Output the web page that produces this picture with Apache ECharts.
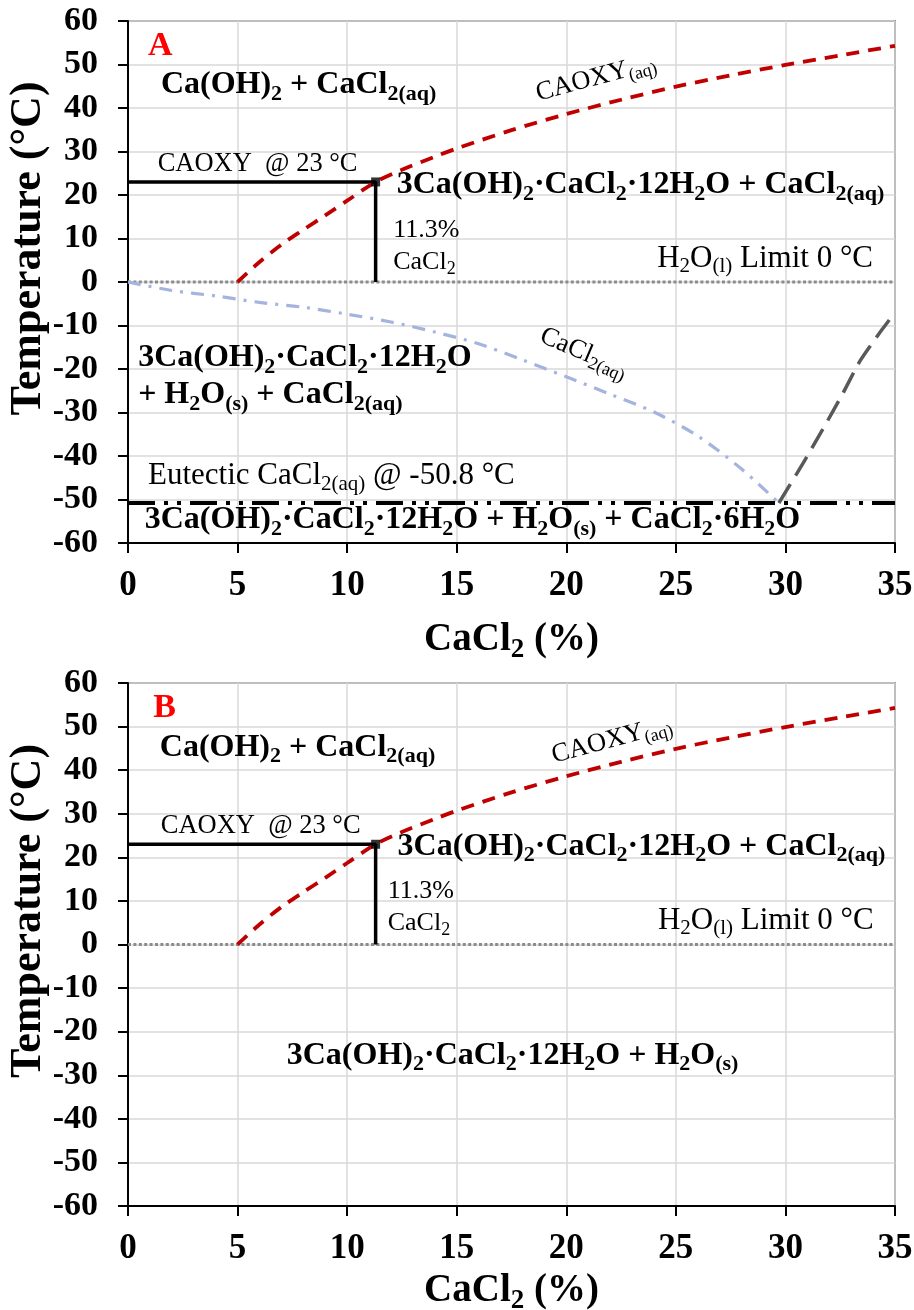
<!DOCTYPE html>
<html>
<head>
<meta charset="utf-8">
<script src="https://cdn.jsdelivr.net/npm/echarts@6/dist/echarts.min.js"></script>
<style>
  html, body { margin: 0; padding: 0; background: #ffffff; }
  #chart { width: 914px; height: 1310px; }
</style>
</head>
<body>
<div id="chart"></div>
<script>
// ---- Data: CaCl2 concentration (%) vs temperature (°C) ----
// CAOXY(aq) solubility boundary (3Ca(OH)2·CaCl2·12H2O formation)
const caoxyX = [5, 6, 7, 8, 9, 10, 11.3, 12.5, 14, 15, 17.5, 20, 22.5, 25, 27.5, 30, 32.5, 35];
const caoxyT = [0, 4.6, 8.6, 12.0, 15.3, 18.7, 23.0, 25.8, 28.8, 30.7, 34.9, 38.6, 41.9, 44.9, 47.5, 49.9, 52.1, 54.3];
// Ice liquidus of CaCl2(aq)
const iceX = [0, 2, 4, 6, 8, 10, 12, 14, 16, 18, 20, 22, 24, 26, 28, 29.7];
const iceT = [0, -1.95, -3.2, -4.7, -5.8, -7.4, -9.2, -11.5, -14.2, -17.9, -21.8, -25.8, -29.9, -35.4, -43.0, -50.8];
// CaCl2·6H2O liquidus
const hexX = [29.7, 30.8, 31.7, 32.6, 33.4, 34.4, 35];
const hexT = [-50.8, -41.7, -33.9, -25.8, -18.2, -11.0, -7.0];
// Reference levels
const eutecticT = -50.8;      // °C
const waterLimitT = 0;        // °C
const caoxyPoint = [11.3, 23]; // % CaCl2, °C
// Axis ranges / tick steps
const xRange = [0, 35], xStep = 5;
const yRange = [-60, 60], yStep = 10;

const FONT = '"Liberation Serif", "Times New Roman", serif';

// Annotation text with simple subscript markup: _X or _{...}
const textA = [
  { at: [1.47, 54.2], kind: 'tag', pos: 'inside', text: 'A' },
  { at: [1.5, 45.3], kind: 'B', pos: 'right', text: 'Ca(OH)_2 + CaCl_{2(aq)}' },
  { at: [1.35, 27.1], kind: 'R', pos: 'right', text: 'CAOXY  @ 23 °C' },
  { at: [12.26, 22.3], kind: 'B', pos: 'right', text: '3Ca(OH)_2·CaCl_2·12H_2O + CaCl_{2(aq)}' },
  { at: [12.1, 8.3], kind: 'N', pos: 'right', text: '11.3%\nCaCl_2' },
  { at: [34.0, 5.3], kind: 'L', pos: 'left', text: 'H_2O_{(l)} Limit 0 °C' },
  { at: [21.35, 46.9], kind: 'R', pos: 'inside', rotate: 15, text: 'CAOXY_{(aq)}' },
  { at: [20.8, -16.3], kind: 'R', pos: 'inside', rotate: -23, text: 'CaCl_{2(aq)}' },
  { at: [0.46, -21.7], kind: 'B2', pos: 'right', text: '3Ca(OH)_2·CaCl_2·12H_2O\n+ H_2O_{(s)} + CaCl_{2(aq)}' },
  { at: [0.91, -44.6], kind: 'L', pos: 'right', text: 'Eutectic CaCl_{2(aq)} @ -50.8 °C' },
  { at: [0.76, -54.7], kind: 'B', pos: 'right', text: '3Ca(OH)_2·CaCl_2·12H_2O + H_2O_{(s)} + CaCl_2·6H_2O' }
];
const textB = [
  { at: [1.67, 54.2], kind: 'tag', pos: 'inside', text: 'B' },
  { at: [1.45, 45.2], kind: 'B', pos: 'right', text: 'Ca(OH)_2 + CaCl_{2(aq)}' },
  { at: [1.49, 27.1], kind: 'R', pos: 'right', text: 'CAOXY  @ 23 °C' },
  { at: [12.3, 22.5], kind: 'B', pos: 'right', text: '3Ca(OH)_2·CaCl_2·12H_2O + CaCl_{2(aq)}' },
  { at: [11.85, 8.55], kind: 'N', pos: 'right', text: '11.3%\nCaCl_2' },
  { at: [34.03, 5.4], kind: 'L', pos: 'left', text: 'H_2O_{(l)} Limit 0 °C' },
  { at: [22.07, 46.9], kind: 'R', pos: 'inside', rotate: 15, text: 'CAOXY_{(aq)}' },
  { at: [17.55, -25.5], kind: 'B', pos: 'inside', text: '3Ca(OH)_2·CaCl_2·12H_2O + H_2O_{(s)}' }
];

// Convert the subscript markup into ECharts rich text for a style prefix
function toRich(str, kind) {
  const main = kind, sub = kind + 's';
  return str.split('\n').map(function (line) {
    let out = '', buf = '', i = 0;
    const flush = function () { if (buf) { out += '{' + main + '|' + buf + '}'; buf = ''; } };
    while (i < line.length) {
      if (line[i] === '_') {
        flush();
        let s;
        if (line[i + 1] === '{') {
          const j = line.indexOf('}', i + 2);
          s = line.slice(i + 2, j); i = j + 1;
        } else { s = line[i + 1]; i += 2; }
        out += '{' + sub + '|' + s + '}';
      } else { buf += line[i]; i++; }
    }
    flush();
    return out;
  }).join('\n');
}

function styleSet(name, size, subSize, pad, lh, weight, color) {
  const o = {};
  o[name] = { fontFamily: FONT, fontWeight: weight, fontSize: size, lineHeight: lh, color: color };
  o[name + 's'] = { fontFamily: FONT, fontWeight: weight, fontSize: subSize, lineHeight: lh, color: color, padding: [pad, 0, 0, 0] };
  return o;
}
const rich = Object.assign({},
  styleSet('B', 32, 22, 18, 40, 'bold', '#000'),
  styleSet('B2', 32, 22, 18, 37, 'bold', '#000'),
  styleSet('R', 26.5, 18, 14, 34, 'normal', '#000'),
  styleSet('L', 31, 21, 16, 38, 'normal', '#000'),
  styleSet('N', 26, 18, 14, 32, 'normal', '#000'),
  styleSet('tag', 34, 22, 14, 40, 'bold', '#FF0000'),
  styleSet('T', 39, 27, 20, 44, 'bold', '#000')
);

function textSeries(list, idx) {
  return {
    type: 'scatter', xAxisIndex: idx, yAxisIndex: idx, silent: true, z: 10,
    symbol: 'circle', symbolSize: 0.1, itemStyle: { color: 'transparent' },
    label: { show: true, rich: rich, distance: 0 },
    data: list.map(function (a) {
      return {
        value: a.at,
        label: {
          show: true, position: a.pos, rotate: a.rotate || 0, distance: 0,
          textBorderWidth: 0, opacity: 1,
          formatter: toRich(a.text, a.kind), rich: rich
        }
      };
    })
  };
}

function pairs(xs, ys) { return xs.map(function (x, i) { return [x, ys[i]]; }); }

function lineSeries(idx, data, color, width, dash, extra) {
  return Object.assign({
    type: 'line', xAxisIndex: idx, yAxisIndex: idx, data: data, showSymbol: false, symbol: 'none',
    silent: true, animation: false,
    lineStyle: { color: color, width: width, type: dash, cap: 'butt' }
  }, extra || {});
}

function panelSeries(idx, full) {
  const s = [];
  s.push(lineSeries(idx, [[xRange[0], waterLimitT], [xRange[1], waterLimitT]], '#8C8C8C', 3, [3, 2.4], { z: 2 }));
  if (full) {
    s.push(lineSeries(idx, pairs(iceX, iceT), '#A4B4DE', 3.2, [13, 8, 3, 8], { smooth: 0.3, z: 3 }));
    s.push(lineSeries(idx, pairs(hexX, hexT), '#595959', 3.5, [22, 10], { smooth: 0.2, z: 3 }));
    s.push(lineSeries(idx, [[xRange[0], eutecticT], [xRange[1], eutecticT]], '#000000', 4, [27, 9, 4, 9, 4, 9], { z: 3 }));
  }
  s.push(lineSeries(idx, [[xRange[0], caoxyPoint[1]], caoxyPoint, [caoxyPoint[0], waterLimitT]], '#000000', 3.5, 'solid', { z: 4 }));
  s.push(lineSeries(idx, pairs(caoxyX, caoxyT), '#C00000', 3.8, [13, 9], { smooth: 0.3, z: 5 }));
  s.push({
    type: 'scatter', xAxisIndex: idx, yAxisIndex: idx, silent: true, z: 6,
    symbol: 'rect', symbolSize: 9, itemStyle: { color: '#000' }, data: [caoxyPoint]
  });
  s.push(textSeries(idx === 0 ? textA : textB, idx));
  return s;
}

const tickFont = { fontFamily: FONT, fontWeight: 'bold', color: '#000' };

function xAxisOpt(idx, gap) {
  return {
    type: 'value', gridIndex: idx, min: xRange[0], max: xRange[1], interval: xStep,
    name: '{T|CaCl}{Ts|2}{T| (%)}', nameLocation: 'middle', nameGap: gap, nameMoveOverlap: false,
    nameTextStyle: { rich: rich, fontFamily: FONT, fontWeight: 'bold', fontSize: 39, color: '#000' },
    axisLine: { show: true, onZero: false, lineStyle: { color: '#000', width: 2 } },
    axisTick: { show: true, inside: false, length: 10, lineStyle: { color: '#000', width: 2 } },
    axisLabel: Object.assign({ fontSize: 35, margin: 25 }, tickFont),
    splitLine: { show: true, lineStyle: { color: '#D9D9D9', width: 1.5 } }
  };
}
function yAxisOpt(idx) {
  return {
    type: 'value', gridIndex: idx, min: yRange[0], max: yRange[1], interval: yStep,
    name: 'Temperature (°C)', nameLocation: 'middle', nameRotate: 90, nameGap: 77, nameMoveOverlap: false,
    nameTextStyle: { fontFamily: FONT, fontWeight: 'bold', fontSize: 44, color: '#000', padding: [0, 0, 0, 67] },
    axisLine: { show: true, onZero: false, lineStyle: { color: '#000', width: 2 } },
    axisTick: { show: true, inside: false, length: 10, lineStyle: { color: '#000', width: 2 } },
    axisLabel: Object.assign({ fontSize: 34, margin: 30 }, tickFont),
    splitLine: { show: true, lineStyle: { color: '#D9D9D9', width: 1.5 } }
  };
}

const chart = echarts.init(document.getElementById('chart'), null, { renderer: 'canvas' });
chart.setOption({
  animation: false,
  backgroundColor: '#ffffff',
  grid: [
    { left: 128, top: 21, width: 767, height: 522, show: true, borderColor: '#404040', borderWidth: 1.5,
      backgroundColor: 'transparent', containLabel: false, outerBoundsMode: 'none' },
    { left: 128, top: 683, width: 767, height: 523, show: true, borderColor: '#404040', borderWidth: 1.5,
      backgroundColor: 'transparent', containLabel: false, outerBoundsMode: 'none' }
  ],
  xAxis: [xAxisOpt(0, 75), xAxisOpt(1, 63)],
  yAxis: [yAxisOpt(0), yAxisOpt(1)],
  series: panelSeries(0, true).concat(panelSeries(1, false))
});
</script>
</body>
</html>
